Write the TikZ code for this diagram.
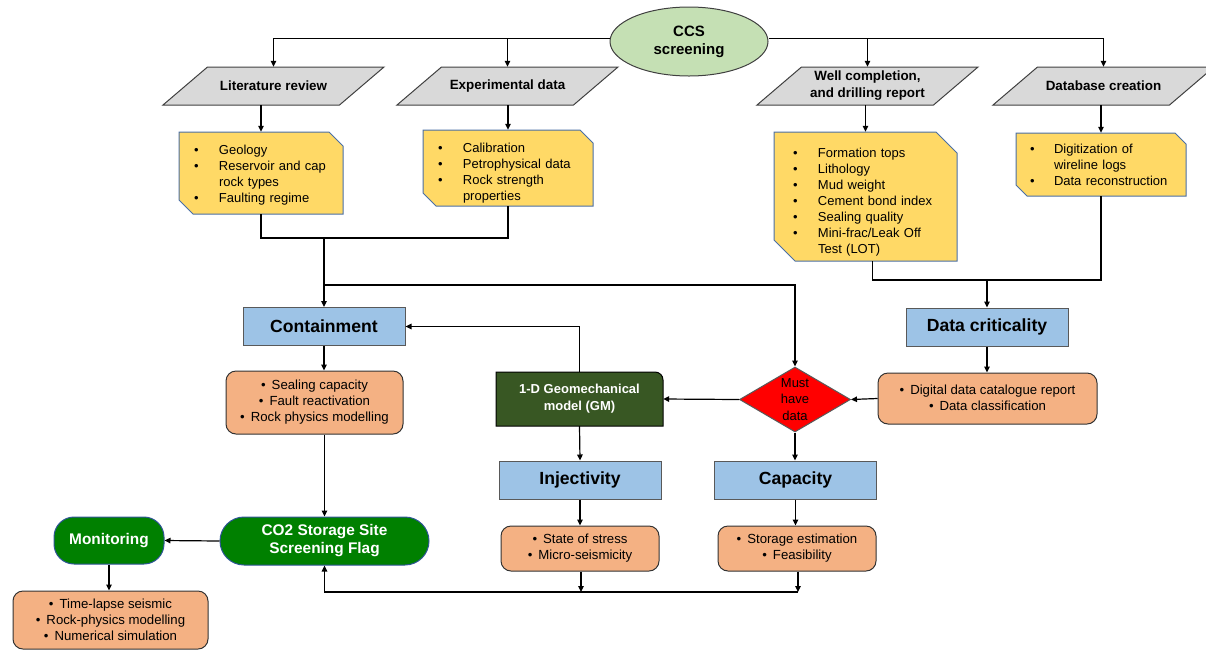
\documentclass[tikz,border=0pt]{standalone}
\usepackage{fontspec}
\setmainfont{Liberation Sans}
\usetikzlibrary{shapes.geometric,arrows.meta}

\definecolor{ccsgreen}{HTML}{C5E0B4}
\definecolor{paragray}{HTML}{D9D9D9}
\definecolor{noteyellow}{HTML}{FFD966}
\definecolor{noteborder}{HTML}{4A6FA5}
\definecolor{boxblue}{HTML}{9DC3E6}
\definecolor{noteorange}{HTML}{F4B183}
\definecolor{gmgreen}{HTML}{385723}
\definecolor{flaggreen}{HTML}{008000}
\definecolor{flagborder}{HTML}{2F5597}
\definecolor{edgegray}{HTML}{595959}

\newcommand\fs[2]{\fontsize{#1}{#2}\selectfont}

\tikzset{
  x=1pt, y=-1pt,
  conn/.style={line width=1.2pt, black},
  arr/.style={conn, -{Triangle[length=6pt,width=5.5pt]}},
  ccsnode/.style={ellipse, draw=black!75, line width=1pt, fill=ccsgreen,
    minimum width=158pt, minimum height=69pt, inner sep=0pt, align=center,
    font=\fs{15}{18}\bfseries},
  parashape/.style={fill=paragray, draw=black!75, line width=1pt},
  paratext/.style={rectangle, minimum width=130pt, minimum height=38pt,
    inner sep=0pt, align=center, font=\fs{13.4}{18}\bfseries},
  yellowshape/.style={fill=noteyellow, draw=noteborder, line width=1pt},
  notetext/.style={rectangle, inner ysep=0pt, align=left, font=\fs{13}{16}},
  bluebox/.style={rectangle, fill=boxblue, draw=edgegray, line width=1pt,
    minimum width=162pt, minimum height=38pt, inner sep=0pt,
    font=\fs{17.6}{20}\bfseries},
  orangebox/.style={rectangle, rounded corners=10pt, fill=noteorange,
    draw=black!80, line width=1pt, inner sep=0pt, align=center,
    font=\fs{13.2}{16}},
  gmshape/.style={fill=gmgreen, draw=black, line width=1pt},
  gmtext/.style={rectangle, minimum width=167pt, minimum height=54pt,
    inner sep=0pt, align=center, text=white, font=\fs{13}{17}\bfseries},
  greenpill/.style={rectangle, fill=flaggreen, draw=flagborder, line width=1pt,
    inner sep=0pt, align=center, text=white, font=\fs{15.4}{18}\bfseries},
  decision/.style={diamond, fill=red, draw=edgegray, line width=1pt,
    minimum width=111pt, minimum height=65pt, inner sep=0pt},
  decisiontext/.style={align=center, inner sep=0pt, font=\fs{13}{16.5}},
}

% parallelogram: name, cx, cy, text
\newcommand\paranode[4]{%
  \filldraw[parashape] (#2-110.5,#3+19) -- (#2-66,#3-19) -- (#2+110.5,#3-19)
    -- (#2+66,#3+19) -- cycle;
  \node[paratext] (#1) at (#2,#3) {#4};}

% snipped note: name, cx, cy, w, h, snip, xsep, yshift, content
\newcommand\snipnote[9]{%
  \filldraw[yellowshape] (#2-#4/2,#3-#5/2) -- (#2+#4/2-#6,#3-#5/2)
    -- (#2+#4/2,#3-#5/2+#6) -- (#2+#4/2,#3+#5/2) -- (#2-#4/2+#6,#3+#5/2)
    -- (#2-#4/2,#3+#5/2-#6) -- cycle;
  \pgfmathsetmacro\tw{#4-2*#7}%
  \node[notetext, minimum width=#4pt, minimum height=#5pt, inner xsep=#7pt,
    text width=\tw pt] (#1) at (#2,#3)
    {\raisebox{-#8pt}[\height][\depth]{#9}};}

\newcommand\bul{\textbullet}

\begin{document}
\begin{tikzpicture}
\useasboundingbox (0,0) rectangle (1206,649);

% top
\node[ccsnode] (ccs) at (689,41.5) {CCS\\screening};

\paranode{lit}{273.5}{86}{Literature review}
\paranode{exp}{507.5}{86}{Experimental data}
\paranode{well}{867.5}{86}{Well completion,\\[-1pt]and drilling report}
\paranode{db}{1103.5}{86}{Database creation}

\snipnote{litn}{261}{173}{164}{82}{14}{15}{2}{%
  \begin{tabular}{@{}p{25pt}@{}l@{}}
  \bul & Geology\\
  \bul & Reservoir and cap\\
       & rock types\\
  \bul & Faulting regime
  \end{tabular}}
\snipnote{expn}{508}{168}{170}{76}{13}{15}{5}{%
  \begin{tabular}{@{}p{25pt}@{}l@{}}
  \bul & Calibration\\
  \bul & Petrophysical data\\
  \bul & Rock strength\\
       & properties
  \end{tabular}}
\snipnote{welln}{865.5}{196.5}{183}{129}{21}{19}{5.5}{%
  \begin{tabular}{@{}p{25pt}@{}l@{}}
  \bul & Formation tops\\
  \bul & Lithology\\
  \bul & Mud weight\\
  \bul & Cement bond index\\
  \bul & Sealing quality\\
  \bul & Mini-frac/Leak Off\\
       & Test (LOT)
  \end{tabular}}
\snipnote{dbn}{1101}{164.5}{170}{63}{11}{14}{1.5}{%
  \begin{tabular}{@{}p{24pt}@{}l@{}}
  \bul & Digitization of\\
       & wireline logs\\
  \bul & Data reconstruction
  \end{tabular}}

% middle
\node[bluebox] (cont) at (324,326.5) {Containment};
\node[bluebox] (dc) at (987,327) {Data criticality};

\node[orangebox, minimum width=177pt, minimum height=63pt] (contn) at (314.5,402.5)
  {\bul\hspace{6pt}Sealing capacity\\\bul\hspace{6pt}Fault reactivation\\\bul\hspace{6pt}Rock physics modelling};
\node[orangebox, minimum width=219pt, minimum height=51pt] (dcn) at (987.5,398.5)
  {\raisebox{2pt}{\bul\hspace{6pt}Digital data catalogue report}\\\raisebox{2pt}{\bul\hspace{6pt}Data classification}};

\filldraw[gmshape] (496,426) -- (496,372) -- (655,372)
  .. controls (659.5,372) and (663,375.5) .. (663,380) -- (663,426) -- cycle;
\node[gmtext] (gm) at (579.5,399) {1-D Geomechanical\\model (GM)};

\node[decision] (diam) at (795,399.5) {};
\node[decisiontext] (diamtxt) at (795,399.5) {Must\\have\\data};

\node[bluebox] (inj) at (580,480) {Injectivity};
\node[bluebox] (cap) at (795.5,480) {Capacity};

\node[orangebox, minimum width=158pt, minimum height=45pt] (injn) at (580,548.5)
  {\bul\hspace{6pt}State of stress\\\bul\hspace{6pt}Micro-seismicity};
\node[orangebox, minimum width=158pt, minimum height=45pt] (capn) at (797,548.5)
  {\bul\hspace{6pt}Storage estimation\\\bul\hspace{6pt}Feasibility};

% bottom left
\node[greenpill, rounded corners=24pt, minimum width=209pt, minimum height=48pt]
  (flag) at (324.5,541) {CO2 Storage Site\\Screening Flag};
\node[greenpill, rounded corners=20pt, minimum width=110pt, minimum height=47pt]
  (mon) at (109,540.5) {Monitoring};
\node[orangebox, minimum width=195pt, minimum height=58pt] (monn) at (110.5,620)
  {\bul\hspace{6pt}Time-lapse seismic\\\bul\hspace{6pt}Rock-physics modelling\\\bul\hspace{6pt}Numerical simulation};

% connectors
\coordinate (topL) at ([yshift=3pt]ccs.west);
\coordinate (topR) at ([yshift=3pt]ccs.east);
\draw[arr] (topL) -| (lit.north);
\draw[arr] (exp.north |- topL) -- (exp.north);
\draw[arr] (topR) -| (db.north);
\draw[arr] (well.north |- topR) -- (well.north);

\draw[arr] (litn.north |- lit.south) -- (litn.north);
\draw[arr] (expn.north |- exp.south) -- (expn.north);
\draw[arr] (welln.north |- well.south) -- (welln.north);
\draw[arr] (dbn.north |- db.south) -- (dbn.north);

\coordinate (j1) at (324,238);
\coordinate (j2) at (324,285);
\draw[conn] (litn.south) |- (j1) -| (expn.south);
\draw[conn] (j1) -- (j2);
\draw[arr] (j2) -- (cont.north);
\draw[arr] (j2) -| (diam.north);

\coordinate (j3) at (987,280);
\draw[conn] ([xshift=7pt]welln.south) |- (j3) -| (dbn.south);
\draw[arr] (j3) -- (dc.north);

\draw[arr] (dc.south) -- (dc.south |- dcn.north);
\draw[arr] (dcn.west) -- (diam.east);
\draw[arr] (diam.west) -- (gm.east);
\draw[arr] (gm.north) |- (cont.east);
\draw[arr] (cont.south) -- (cont.south |- contn.north);
\draw[arr] (gm.south) -- (inj.north);
\draw[arr] (diam.south) -- (diam.south |- cap.north);
\draw[arr] (inj.south) -- (inj.south |- injn.north);
\draw[arr] (cap.south) -- (cap.south |- capn.north);

\coordinate (b1) at (581,592);
\coordinate (b2) at (798,592);
\draw[arr] (injn.south -| b1) -- (b1);
\draw[arr] (capn.south -| b2) -- (b2);
\draw[arr] (b2) -| (flag.south);
\draw[arr] (flag.north |- contn.south) -- (flag.north);
\draw[arr] (flag.west) -- (mon.east);
\draw[arr] (mon.south) -- (mon.south |- monn.north);
\end{tikzpicture}
\end{document}
